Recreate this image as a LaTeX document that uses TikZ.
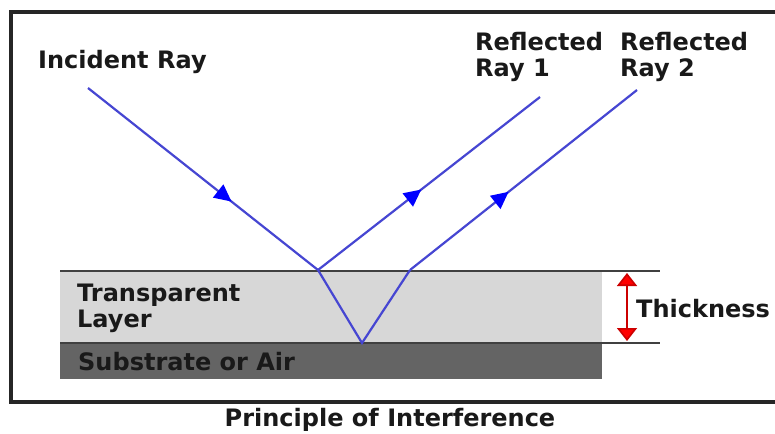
\documentclass[tikz,border=0pt]{standalone}
\usepackage{fontspec}
\setmainfont{DejaVu Sans}
\usetikzlibrary{arrows.meta,decorations.markings}
\definecolor{raycol}{RGB}{70,70,210}
\definecolor{layergray}{RGB}{215,215,215}
\definecolor{subgray}{RGB}{100,100,100}
\tikzset{
  lbl/.style={font=\bfseries\fontsize{24}{26}\selectfont, text=black!90, inner sep=0pt},
  ray/.style={draw=raycol, line width=2.2pt},
  midarrow/.style={postaction={decorate}, decoration={markings,
     mark=at position #1 with {\fill[blue] (7pt,0) -- (-10pt,8.5pt) -- (-10pt,-8.5pt) -- cycle;}}},
  bound/.style={draw=black!75, line width=2.2pt},
}
\begin{document}
\begin{tikzpicture}[x=1pt,y=-1pt]
\useasboundingbox (0,0) rectangle (775,433);
\fill[white] (0,0) rectangle (775,433);
% frame
\draw[black!85, line width=3.2pt] (775,12) -- (11,12) -- (11,402) -- (775,402);
% layers
\fill[layergray] (60,271) rectangle (602,343);
\fill[subgray] (60,343) rectangle (602,379);
\draw[bound] (60,271) -- (660,271);
\draw[bound] (60,343) -- (660,343);
% ray points
\coordinate (inc) at (88,88);
\coordinate (p1) at (318,270);
\coordinate (p2) at (362,343);
\coordinate (p3) at (410,270);
\coordinate (r1) at (540,97);
\coordinate (r2) at (637,90);
\draw[ray, midarrow=0.6] (inc) -- (p1);
\draw[ray] (p1) -- (p2) -- (p3);
\draw[ray, midarrow=0.44] (p1) -- (r1);
\draw[ray, midarrow=0.41] (p3) -- (r2);
% thickness
\coordinate (tt) at (627,273);
\coordinate (tb) at (627,341);
\draw[line width=1.6pt, draw=red!80!black, {Triangle[length=13pt,width=20pt,fill=red]}-{Triangle[length=13pt,width=20pt,fill=red]}] (tt) -- (tb);
% labels
\node[lbl, anchor=west] (tinc) at (38,62) {Incident Ray};
\node[lbl, anchor=west, align=left] (tr1) at (475,57) {Reflected\\Ray 1};
\node[lbl, anchor=west, align=left] (tr2) at (620,57) {Reflected\\Ray 2};
\node[lbl, anchor=west] (tth) at (636,309) {Thickness};
\node[lbl, anchor=west, align=left] (tla) at (77,308) {Transparent\\Layer};
\node[lbl, anchor=west] (tsub) at (78,362) {Substrate or Air};
\node[lbl, anchor=center] (ttitle) at (390,420) {Principle of Interference};
\end{tikzpicture}
\end{document}
